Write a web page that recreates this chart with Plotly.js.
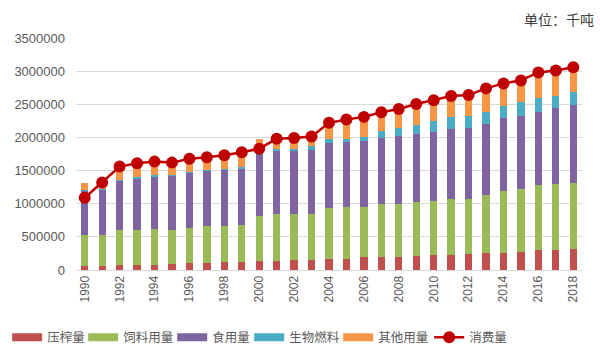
<!DOCTYPE html>
<html>
<head>
<meta charset="utf-8">
<script src="https://cdn.plot.ly/plotly-3.0.1.min.js"></script>
<style>html,body{margin:0;padding:0;background:#fff;}#chart{width:600px;height:360px;}</style>
</head>
<body>
<div id="chart"></div>
<script>
const years = [1990,1991,1992,1993,1994,1995,1996,1997,1998,1999,2000,2001,2002,2003,2004,2005,2006,2007,2008,2009,2010,2011,2012,2013,2014,2015,2016,2017,2018];
const crush = [60000,55000,83000,83000,83000,98000,113000,113000,128000,128000,143000,143000,158000,158000,173000,173000,189000,189000,189000,204000,219000,219000,234000,249000,264000,279000,295000,295000,310000];
const feed = [461000,466000,514000,514000,529000,499000,514000,544000,529000,544000,665000,695000,680000,680000,756000,771000,755000,800000,800000,816000,816000,846000,831000,876000,921000,936000,980000,995000,1000000];
const food = [669000,684000,743000,783000,798000,823000,833000,833000,853000,858000,937000,952000,952000,972000,981000,981000,996000,996000,1026000,1025000,1040000,1055000,1075000,1085000,1105000,1115000,1115000,1150000,1175000];
const biofuel = [20000,21000,16000,20000,20000,15000,20000,20000,15000,20000,20000,30000,30000,55000,60000,55000,70000,115000,125000,145000,175000,190000,180000,180000,180000,200000,200000,190000,195000];
const other = [110000,30000,184000,200000,190000,170000,185000,180000,195000,210000,205000,145000,155000,135000,235000,275000,285000,265000,275000,300000,295000,300000,305000,335000,330000,310000,370000,360000,360000];
const consumption = [1090000,1320000,1560000,1610000,1635000,1620000,1680000,1700000,1730000,1775000,1830000,1980000,1990000,2015000,2220000,2270000,2310000,2380000,2430000,2505000,2560000,2625000,2640000,2740000,2815000,2860000,2980000,3010000,3060000];

const names = ['压榨量','饲料用量','食用量','生物燃料','其他用量'];
const colors = ['#C0504D','#9BBB59','#8064A2','#4BACC6','#F79646'];
const legendWidths = [31, 44, 32, 44, 46];
const series = [crush, feed, food, biofuel, other];

const traces = [];
series.forEach((s, i) => {
  traces.push({
    type: 'bar', x: years, y: s, name: names[i],
    marker: {color: colors[i]}, showlegend: false, legendgroup: 'g' + i,
    hoverinfo: 'x+y+name'
  });
});
// legend swatches (wide rectangles)
series.forEach((s, i) => {
  traces.push({
    type: 'scatter', mode: 'lines', x: [null], y: [null], name: names[i],
    line: {color: colors[i], width: 8}, legendgroup: 'g' + i, showlegend: true,
    legendwidth: legendWidths[i]
  });
});
traces.push({
  type: 'scatter', mode: 'lines+markers', x: years, y: consumption, name: '消费量',
  line: {color: '#C00000', width: 2.5},
  marker: {color: '#C00000', size: 12}
});

const layout = {
  width: 600, height: 360,
  margin: {l: 76, r: 18, t: 38, b: 90, autoexpand: false},
  paper_bgcolor: '#fff', plot_bgcolor: '#fff',
  barmode: 'stack', bargap: 0.58,
  font: {family: '"Liberation Sans", Arial, "Noto Sans CJK SC", sans-serif', color: '#595959'},
  title: {
    text: '单位：千吨', font: {size: 14, color: '#404040', family: '"Noto Sans CJK SC", sans-serif'},
    xref: 'container', yref: 'container', x: 0.99, xanchor: 'right', y: 0.944, yanchor: 'middle'
  },
  xaxis: {
    range: [1989.5, 2018.5], tick0: 1990, dtick: 2, tickangle: -90,
    tickfont: {size: 12, color: '#595959'}, showgrid: false,
    showline: true, linecolor: '#D9D9D9', linewidth: 1, ticks: '', zeroline: false
  },
  yaxis: {
    range: [0, 3500000], dtick: 500000, tickformat: 'd',
    tickfont: {size: 13, color: '#595959'}, gridcolor: '#D9D9D9', gridwidth: 1,
    zeroline: false, showline: false, ticks: '', ticklabelstandoff: 10
  },
  legend: {
    orientation: 'h', x: -0.136, xanchor: 'left',
    y: -0.291, yanchor: 'middle',
    font: {size: 12.5, color: '#595959', family: '"Noto Sans CJK SC", sans-serif'},
    itemwidth: 30
  },
  showlegend: true
};

Plotly.newPlot('chart', traces, layout, {displayModeBar: false, staticPlot: true});
</script>
</body>
</html>
